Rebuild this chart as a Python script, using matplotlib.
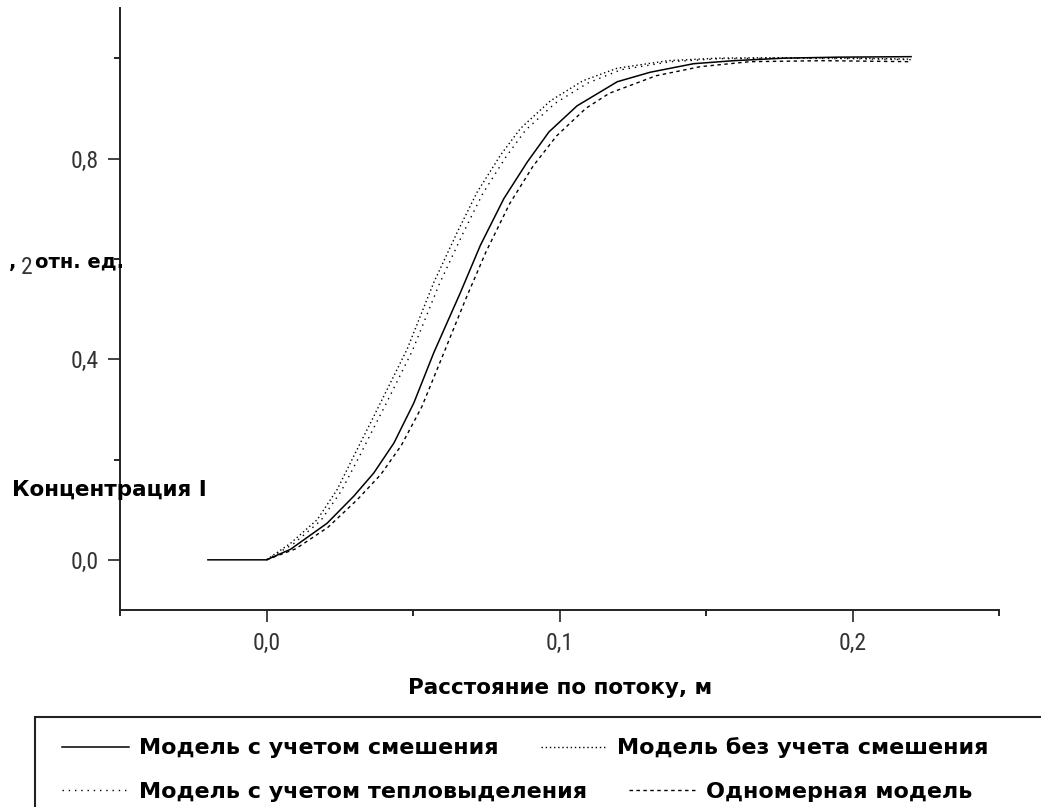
import matplotlib
matplotlib.use('Agg')
from matplotlib import pyplot as plt
from matplotlib.patches import Rectangle
from matplotlib.ticker import FixedLocator, FixedFormatter

# concentration profiles along the flow
x_mix = [-0.02, 0.0, 0.0082, 0.0207, 0.0298, 0.0366, 0.0435, 0.0503, 0.0571, 0.0662,
         0.073, 0.081, 0.089, 0.0964, 0.106, 0.114, 0.1197, 0.131, 0.1458, 0.1595,
         0.1766, 0.195, 0.22]
y_mix = [0.0, 0.0, 0.021, 0.073, 0.127, 0.173, 0.233, 0.313, 0.413, 0.533,
         0.627, 0.72, 0.793, 0.853, 0.905, 0.933, 0.953, 0.972, 0.989, 0.995,
         1.0, 1.002, 1.003]

x_nomix = [0.0, 0.0082, 0.0173, 0.0241, 0.0298, 0.0355, 0.0389, 0.0435, 0.048, 0.0571,
           0.0651, 0.0719, 0.0799, 0.0867, 0.0969, 0.108, 0.1197, 0.137, 0.154, 0.175,
           0.2, 0.22]
y_nomix = [0.0, 0.033, 0.08, 0.14, 0.207, 0.273, 0.313, 0.367, 0.42, 0.553,
           0.653, 0.733, 0.807, 0.86, 0.915, 0.955, 0.98, 0.995, 1.0, 1.001,
           1.0, 0.998]

x_heat = [0.0, 0.009, 0.0185, 0.0255, 0.0315, 0.0372, 0.0407, 0.0453, 0.0498, 0.059,
          0.067, 0.0738, 0.0817, 0.0885, 0.0985, 0.1095, 0.121, 0.138, 0.155, 0.175,
          0.2, 0.22]
y_heat = [0.0, 0.031, 0.078, 0.137, 0.204, 0.27, 0.31, 0.364, 0.417, 0.55,
          0.65, 0.73, 0.803, 0.857, 0.91, 0.95, 0.977, 0.993, 0.999, 1.0,
          0.999, 0.997]

x_1d = [0.0, 0.01, 0.021, 0.031, 0.039, 0.046, 0.053, 0.06, 0.068, 0.075,
        0.083, 0.091, 0.099, 0.109, 0.117, 0.133, 0.148, 0.165, 0.19, 0.22]
y_1d = [0.0, 0.022, 0.065, 0.12, 0.17, 0.228, 0.305, 0.405, 0.52, 0.615,
        0.71, 0.785, 0.845, 0.9, 0.93, 0.965, 0.983, 0.993, 0.995, 0.993]

labels = ['Модель с учетом смешения', 'Модель без учета смешения',
          'Модель с учетом тепловыделения', 'Одномерная модель']

xticks = [0.0, 0.1, 0.2]
xtick_labels = ['0,0', '0,1', '0,2']
yticks = [0.0, 0.4, 0.8]
ytick_labels = ['0,0', '0,4', '0,8']

W, H = 1041, 807
fig = plt.figure(figsize=(W / 100, H / 100), dpi=100)
ax = fig.add_axes([120 / W, 1 - 610 / H, (999 - 120) / W, (610 - 8) / H])

tick_font = ['Roboto Condensed', 'Liberation Sans Narrow', 'DejaVu Sans Condensed',
             'Roboto', 'DejaVu Sans']
bold_font = ['DejaVu Sans']

l1, = ax.plot(x_mix, y_mix, color='black', lw=1.1, ls='-')
l2, = ax.plot(x_nomix, y_nomix, color='black', lw=1.0, ls=(0, (1, 2)))
l3, = ax.plot(x_heat, y_heat, color='black', lw=1.0, ls=(0, (1, 3.5)))
l4, = ax.plot(x_1d, y_1d, color='black', lw=1.0, ls=(0, (2.5, 2.5)))

ax.set_xlim(-0.05, 0.25)
ax.set_ylim(-0.1, 1.1)

for s in ['top', 'right']:
    ax.spines[s].set_visible(False)
for s in ['left', 'bottom']:
    ax.spines[s].set_linewidth(1.4)
    ax.spines[s].set_color('#222222')

ax.xaxis.set_major_locator(FixedLocator(xticks))
ax.xaxis.set_major_formatter(FixedFormatter(xtick_labels))
ax.xaxis.set_minor_locator(FixedLocator([-0.05, 0.05, 0.15, 0.25]))
ax.yaxis.set_major_locator(FixedLocator(yticks))
ax.yaxis.set_major_formatter(FixedFormatter(ytick_labels))
ax.yaxis.set_minor_locator(FixedLocator([0.2, 0.6, 1.0]))

ax.tick_params(which='major', direction='out', length=8.5, width=1.2, pad=7,
               labelsize=17, colors='#222222')
ax.tick_params(which='minor', direction='out', length=4.5, width=1.2)
for lab in ax.get_xticklabels() + ax.get_yticklabels():
    lab.set_family(tick_font)
    lab.set_color('#333333')

# x axis title
fig.text(560 / W, 1 - 688 / H, 'Расстояние по потоку, м', ha='center', va='center',
         fontsize=15.5, fontweight='bold', family=bold_font)

# broken y axis title
fig.text(12 / W, 1 - 490 / H, 'Концентрация I', ha='left', va='center',
         fontsize=15.5, fontweight='bold', family=bold_font)
fig.text(9 / W, 1 - 262 / H, ',', ha='left', va='center',
         fontsize=14, fontweight='bold', family=bold_font)
fig.text(27 / W, 1 - 268 / H, '2', ha='center', va='center',
         fontsize=17, family=tick_font, color='#333333')
fig.text(35 / W, 1 - 262 / H, 'отн. ед.', ha='left', va='center',
         fontsize=14, fontweight='bold', family=bold_font)

# legend box running off the figure edge
fig.patches.append(Rectangle((35 / W, -0.2), 1.2, 0.2 + (H - 717) / H,
                             transform=fig.transFigure, fill=False,
                             lw=1.5, edgecolor='#222222'))

leg_kw = dict(loc='center left', ncol=2, frameon=False, borderpad=0, borderaxespad=0,
              handlelength=3.0, handletextpad=0.45, columnspacing=1.9,
              prop={'family': bold_font, 'weight': 'bold', 'size': 16})
fig.legend([l1, l2], labels[:2], bbox_to_anchor=(62 / W, 1 - 748 / H), **leg_kw)
fig.legend([l3, l4], labels[2:], bbox_to_anchor=(62 / W, 1 - 792 / H), **leg_kw)

fig.savefig('out.png', dpi=100)
